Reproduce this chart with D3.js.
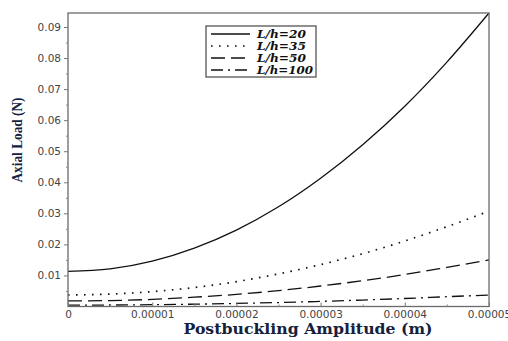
<!DOCTYPE html>
<html><head><meta charset="utf-8">
<script src="https://d3js.org/d3.v7.min.js"></script>
<style>html,body{margin:0;padding:0;background:#fff;}svg{display:block;}</style>
</head><body><svg id="c" width="508" height="341"></svg>
<script>
const amplitude = [0, 0.000005, 0.00001, 0.000015, 0.00002, 0.000025, 0.00003, 0.000035, 0.00004, 0.000045, 0.00005];
const load20  = [0.0113, 0.0121, 0.0146, 0.0188, 0.0246, 0.0321, 0.0413, 0.0521, 0.0645, 0.0787, 0.0945];
const load35  = [0.0037, 0.0040, 0.0048, 0.0061, 0.0080, 0.0105, 0.0135, 0.0170, 0.0211, 0.0257, 0.0307];
const load50  = [0.0018, 0.0019, 0.0023, 0.0030, 0.0039, 0.0051, 0.0066, 0.0083, 0.0103, 0.0126, 0.0150];
const load100 = [0.00045, 0.00048, 0.00058, 0.00075, 0.00098, 0.00128, 0.00165, 0.00208, 0.00258, 0.00315, 0.0037];
const seriesNames = ["L/h=20", "L/h=35", "L/h=50", "L/h=100"];
const xTicks = [0, 0.00001, 0.00002, 0.00003, 0.00004, 0.00005];
const xTickLabels = ["0", "0.00001", "0.00002", "0.00003", "0.00004", "0.00005"];
const yTicks = [0.01, 0.02, 0.03, 0.04, 0.05, 0.06, 0.07, 0.08, 0.09];
const yTickLabels = ["0.01", "0.02", "0.03", "0.04", "0.05", "0.06", "0.07", "0.08", "0.09"];
const xMinor = [0.000005, 0.000015, 0.000025, 0.000035, 0.000045];
const yMinor = [0.005, 0.015, 0.025, 0.035, 0.045, 0.055, 0.065, 0.075, 0.085];

const dashes = [null, "1.6,6.4", "14,6", "12,5,2,5"];
const series = [load20, load35, load50, load100];

const svg = d3.select("#c");
const L = 68, R = 489, T = 13, B = 306.5;
const x = d3.scaleLinear().domain([0, 0.00005]).range([L, R]);
const y = d3.scaleLinear().domain([0, 0.0945]).range([B, T]);

// curves
const line = d3.line().x((d, i) => x(amplitude[i])).y(d => y(d)).curve(d3.curveMonotoneX);
series.forEach((s, k) => {
  svg.append("path").attr("d", line(s)).attr("fill", "none")
    .attr("stroke", "#111").attr("stroke-width", k === 1 ? 1.7 : 1.3)
    .attr("stroke-dasharray", dashes[k]);
});

// frame
svg.append("rect").attr("x", L).attr("y", T).attr("width", R - L).attr("height", B - T)
  .attr("fill", "none").attr("stroke", "#6a6a6a").attr("stroke-width", 1.3);

const tickFont = "DejaVu Sans, Verdana, sans-serif";
// x axis (inner ticks)
const gx = svg.append("g").attr("transform", `translate(0,${B})`)
  .call(d3.axisBottom(x).tickValues(xTicks).tickFormat((d, i) => xTickLabels[i]).tickSize(-4).tickPadding(4));
gx.select(".domain").remove();
gx.selectAll(".tick line").attr("stroke", "#777");
gx.selectAll("text").attr("font-family", tickFont).attr("font-size", 10.5).attr("fill", "#444");
const gxm = svg.append("g").attr("transform", `translate(0,${B})`)
  .call(d3.axisBottom(x).tickValues(xMinor).tickFormat("").tickSize(-2));
gxm.select(".domain").remove(); gxm.selectAll("line").attr("stroke", "#888");

// y axis (outer ticks)
const gy = svg.append("g").attr("transform", `translate(${L},0)`)
  .call(d3.axisLeft(y).tickValues(yTicks).tickFormat((d, i) => yTickLabels[i]).tickSize(4).tickPadding(3));
gy.select(".domain").remove();
gy.selectAll(".tick line").attr("stroke", "#777");
gy.selectAll("text").attr("font-family", tickFont).attr("font-size", 10.5).attr("fill", "#444");
const gym = svg.append("g").attr("transform", `translate(${L},0)`)
  .call(d3.axisLeft(y).tickValues(yMinor).tickFormat("").tickSize(2));
gym.select(".domain").remove(); gym.selectAll("line").attr("stroke", "#888");

// axis titles
svg.append("text").attr("x", 308).attr("y", 334).attr("text-anchor", "middle")
  .attr("font-family", "DejaVu Serif, serif").attr("font-weight", "bold").attr("font-size", 15)
  .attr("textLength", 249).attr("lengthAdjust", "spacingAndGlyphs")
  .attr("fill", "#14213d").text("Postbuckling Amplitude (m)");
svg.append("text").attr("transform", "translate(22,140) rotate(-90)").attr("text-anchor", "middle")
  .attr("font-family", "Liberation Serif, serif").attr("font-weight", "bold").attr("font-size", 15)
  .attr("textLength", 85).attr("lengthAdjust", "spacingAndGlyphs")
  .attr("fill", "#14213d").text("Axial Load (N)");

// legend
const lg = svg.append("g");
lg.append("rect").attr("x", 206).attr("y", 26).attr("width", 110).attr("height", 51)
  .attr("fill", "#fff").attr("stroke", "#555").attr("stroke-width", 1.3);
seriesNames.forEach((n, k) => {
  const yy = 34 + k * 12;
  lg.append("line").attr("x1", 211).attr("x2", 250).attr("y1", yy).attr("y2", yy)
    .attr("stroke", "#111").attr("stroke-width", k === 1 ? 1.7 : 1.3).attr("stroke-dasharray", dashes[k]);
  lg.append("text").attr("x", 257).attr("y", yy + 4).attr("font-family", "DejaVu Serif, serif")
    .attr("font-style", "italic").attr("font-weight", "bold").attr("font-size", 10.5)
    .attr("textLength", n.length > 6 ? 56 : 49).attr("lengthAdjust", "spacingAndGlyphs")
    .attr("fill", "#111").text(n);
});
</script></body></html>
